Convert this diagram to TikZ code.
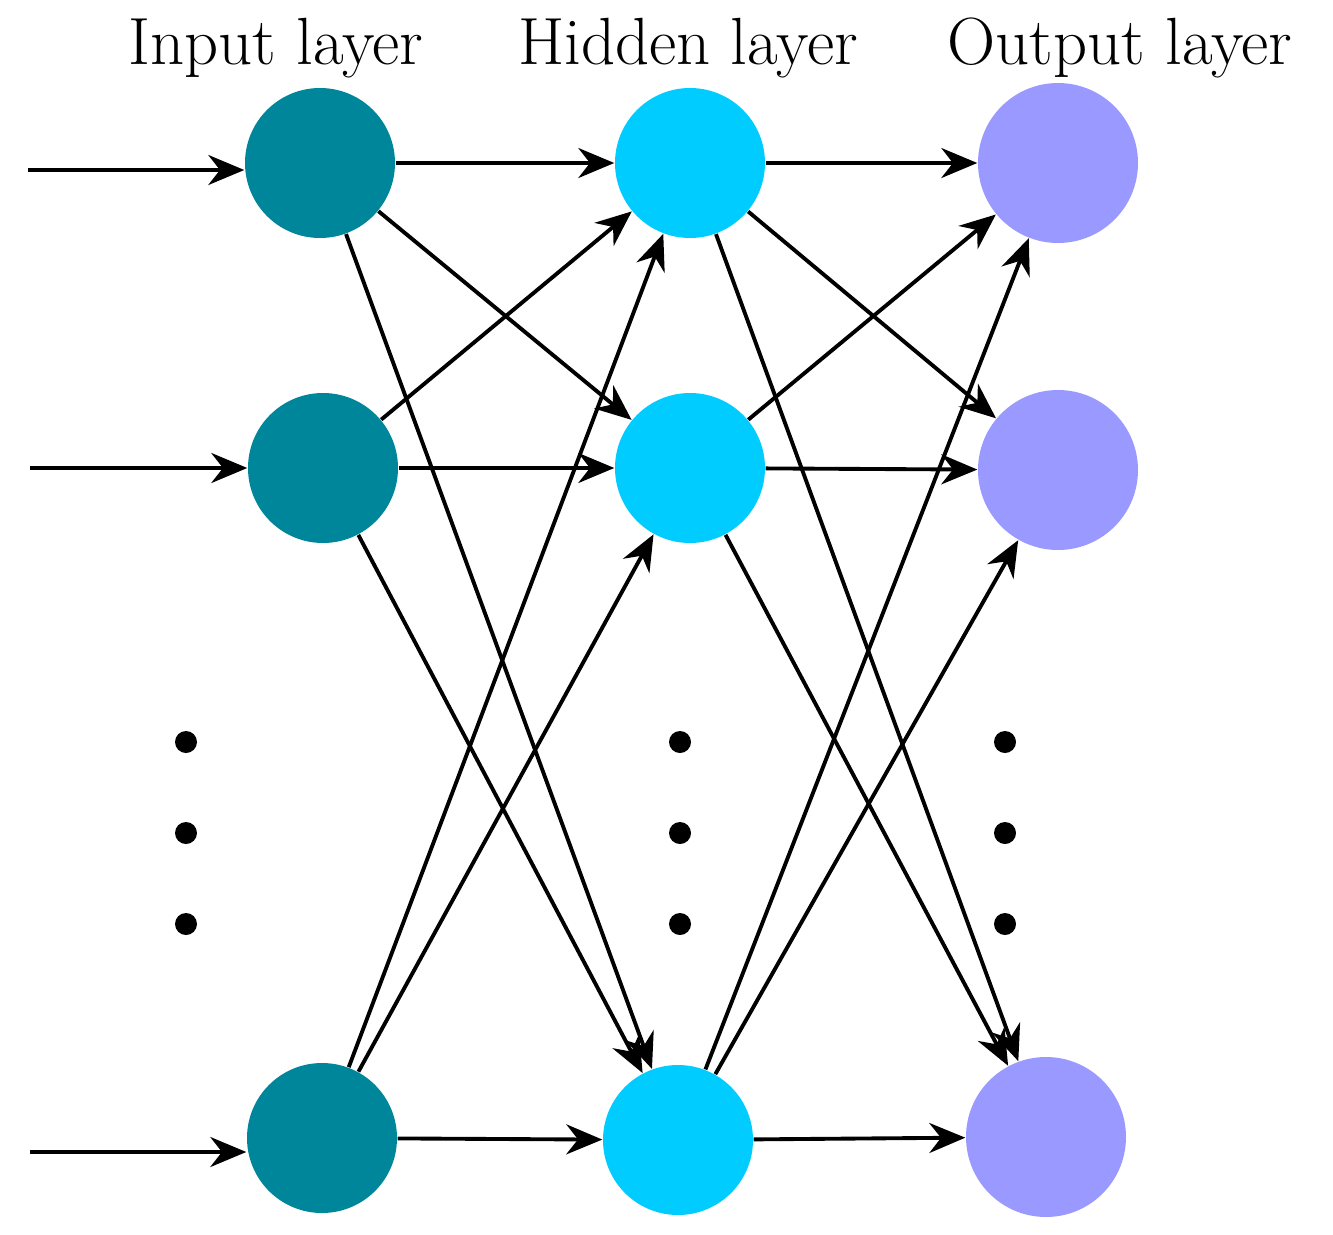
\documentclass[tikz,border=0pt]{standalone}
\usepackage{xcolor}
\usepackage{tikz}
\usetikzlibrary{arrows.meta,positioning}
\definecolor{incol}{RGB}{0,134,154}
\definecolor{hidcol}{RGB}{0,204,255}
\definecolor{outcol}{RGB}{153,153,255}
\begin{document}
\begin{tikzpicture}[
    neuron/.style={circle, minimum size=1.5cm, inner sep=0pt},
    inp/.style={neuron, fill=incol},
    hid/.style={neuron, fill=hidcol},
    outp/.style={neuron, fill=outcol, minimum size=1.6cm},
    conn/.style={-{Stealth[length=0.36cm,width=0.3cm]}, line width=1.1pt},
    title/.style={font=\fontsize{19}{22}\selectfont},
    dot/.style={circle, fill=black, inner sep=0pt, minimum size=0.22cm}
]
    \useasboundingbox (0,0) rectangle (13.33,-12.35);

    % Layer titles
    \node [title] (tin) at (2.76,-0.48) {Input layer};
    \node [title] (thid) at (6.88,-0.48) {Hidden layer};
    \node [title] (tout) at (11.2,-0.48) {Output layer};

    % Neurons
    \node [inp] (i1) at (3.20,-1.63) {};
    \node [inp] (i2) at (3.23,-4.68) {};
    \node [inp] (i3) at (3.22,-11.38) {};
    \node [hid] (h1) at (6.90,-1.63) {};
    \node [hid] (h2) at (6.90,-4.68) {};
    \node [hid] (h3) at (6.78,-11.40) {};
    \node [outp] (o1) at (10.58,-1.63) {};
    \node [outp] (o2) at (10.58,-4.70) {};
    \node [outp] (o3) at (10.46,-11.37) {};

    % Ellipsis dots
    \foreach \x/\n in {1.86/a, 6.80/b, 10.05/c} {
        \node [dot] (\n1) at (\x,-7.42) {};
        \node [dot] (\n2) at (\x,-8.33) {};
        \node [dot] (\n3) at (\x,-9.24) {};
    }

    % Inputs
    \coordinate (x1) at (0.28,-1.70);
    \coordinate (x2) at (0.30,-4.68);
    \coordinate (x3) at (0.30,-11.52);
    \draw [conn] (x1) -- (x1 -| i1.west);
    \draw [conn] (x2) -- (i2.west);
    \draw [conn] (x3) -- (x3 -| i3.west);

    % Connections
    \foreach \a in {1,2,3} {
        \foreach \b in {1,2,3} {
            \draw [conn] (i\a) -- (h\b);
            \draw [conn] (h\a) -- (o\b);
        }
    }
\end{tikzpicture}
\end{document}
